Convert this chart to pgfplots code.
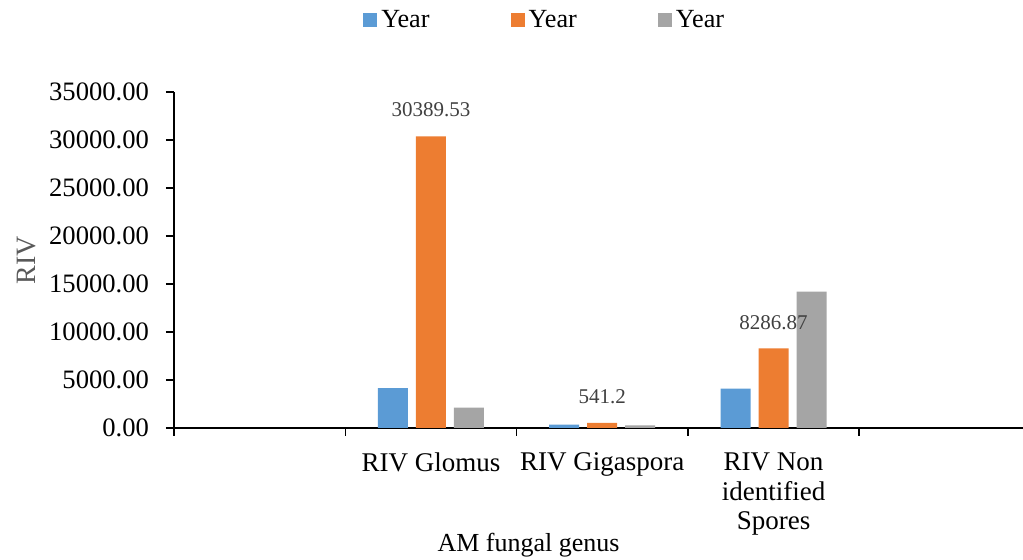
\documentclass[border=0pt]{standalone}
\usepackage{fontspec}
\setmainfont{Liberation Serif}
\usepackage{pgfplots}
\pgfplotsset{compat=1.18}
\definecolor{yrblue}{HTML}{5B9BD5}
\definecolor{yrorange}{HTML}{ED7D31}
\definecolor{yrgray}{HTML}{A5A5A5}
\definecolor{lblgray}{HTML}{404040}
\definecolor{axgray}{HTML}{595959}

\begin{document}
\begin{tikzpicture}
\begin{axis}[
    name=ax,
    scale only axis,
    width=428.25pt, height=168pt,
    ybar=4pt, bar width=15pt,
    xmin=-0.5, xmax=4.5, ymin=0, ymax=35000,
    axis x line*=bottom, axis y line*=left,
    axis line style={line width=0.75pt, black},
    tick style={line width=0.75pt, black},
    tick align=outside, major tick length=4pt,
    xtick={-0.5,0.5,1.5,2.5,3.5,4.5},
    x tick label as interval,
    xticklabels={{},{RIV Glomus},{RIV Gigaspora},{RIV Non\\identified\\Spores},{}},
    xticklabel style={align=center, font=\fontsize{13.5}{14.75}\selectfont, yshift=-5pt},
    ytick={0,5000,...,35000},
    scaled y ticks=false,
    yticklabel style={font=\fontsize{13.3}{16}\selectfont, xshift=-5pt},
    /pgf/number format/.cd, fixed, fixed zerofill, precision=2, 1000 sep={}, assume math mode=true,
    /pgfplots/.cd,
    xlabel={AM fungal genus},
    xlabel style={at={(axis description cs:0.414,-0.369)}, anchor=base, font=\fontsize{13}{16}\selectfont},
    ylabel={RIV},
    ylabel style={at={(axis description cs:-0.172,0.5)}, anchor=center, font=\fontsize{14}{16}\selectfont, text=axgray},
    legend columns=3,
    legend style={at={(axis description cs:0.434,1.214)}, anchor=center, draw=none,
        font=\fontsize{13.1}{16}\selectfont,
        /tikz/every even column/.append style={column sep=38.5pt}},
]
\addplot[fill=yrblue, draw=none,
    legend image code/.code={\fill[yrblue] (0pt,-3.5pt) rectangle (7pt,3.5pt);}]
    coordinates {(1,4150) (2,345) (3,4100)};
\addplot[fill=yrorange, draw=none,
    legend image code/.code={\fill[yrorange] (0pt,-3.5pt) rectangle (7pt,3.5pt);},
    nodes near coords, point meta=explicit symbolic,
    nodes near coords style={font=\fontsize{10.5}{12}\selectfont, text=lblgray, anchor=south, yshift=6pt}]
    coordinates {(1,30389.53) [30389.53] (2,541.2) [541.2] (3,8286.87) [8286.87]};
\addplot[fill=yrgray, draw=none,
    legend image code/.code={\fill[yrgray] (0pt,-3.5pt) rectangle (7pt,3.5pt);}]
    coordinates {(1,2120) (2,280) (3,14210)};
\legend{Year, Year, Year}
\end{axis}
\pgfresetboundingbox
\path[use as bounding box] (ax.south west) ++(-87pt,-66pt) rectangle ++(511.5pt,280pt);
\end{tikzpicture}
\end{document}
